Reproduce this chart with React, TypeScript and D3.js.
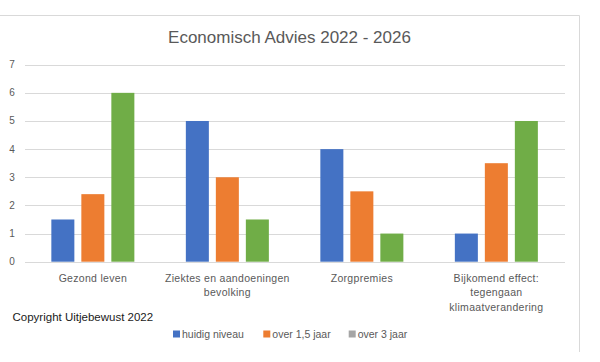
import * as d3 from "d3";

const categories = ["Gezond leven", "Ziektes en aandoeningen bevolking", "Zorgpremies", "Bijkomend effect: tegengaan klimaatverandering"];
const categoryLines = [
  ["Gezond leven"],
  ["Ziektes en aandoeningen", "bevolking"],
  ["Zorgpremies"],
  ["Bijkomend effect:", "tegengaan", "klimaatverandering"],
];
const seriesNames = ["huidig niveau", "over 1,5 jaar", "over 3 jaar"];
const huidigNiveau = [1.5, 5, 4, 1];
const over15Jaar = [2.4, 3, 2.5, 3.5];
const over3Jaar = [6, 1.5, 1, 5];
const yTicks = [0, 1, 2, 3, 4, 5, 6, 7];

const barColors = ["#4472C4", "#ED7D31", "#70AD47"];
// legend in the original shows grey for the third series
const legendColors = ["#4472C4", "#ED7D31", "#A5A5A5"];

const W = 600;
const H = 362;
const font = "'Liberation Sans', Arial, sans-serif";

export default function App() {
  const series = [huidigNiveau, over15Jaar, over3Jaar];

  const x = d3.scaleBand<string>().domain(categories).range([25.6, 563.6]);
  const inner = d3
    .scaleBand<string>()
    .domain(seriesNames)
    .range([0, x.bandwidth()])
    .paddingInner(0.233)
    .paddingOuter(0.858);
  const y = d3.scaleLinear().domain([0, 7]).range([261.7, 64.7]);

  const legendX = [173, 263.3, 348.7];

  return (
    <svg width={W} height={H} style={{ position: "absolute", left: 0, top: 0, background: "#fff" }}>
      {/* chart frame */}
      <path d={`M0,15.5 H579.5 V352`} fill="none" stroke="#d9d9d9" strokeWidth={1} />

      <text x={289.5} y={43.3} textAnchor="middle" fontFamily={font} fontSize={17} fill="#595959">
        Economisch Advies 2022 - 2026
      </text>

      {yTicks.map((t) => (
        <g key={t}>
          <line x1={25} x2={565} y1={Math.round(y(t)) + 0.5} y2={Math.round(y(t)) + 0.5} stroke="#d9d9d9" strokeWidth={1} />
          <text x={12} y={y(t) + 3.5} textAnchor="middle" fontFamily={font} fontSize={10} fill="#595959">
            {t}
          </text>
        </g>
      ))}

      {categories.map((c, ci) => (
        <g key={c} transform={`translate(${x(c)},0)`}>
          {series.map((vals, si) => (
            <rect
              key={si}
              x={inner(seriesNames[si])}
              y={y(vals[ci])}
              width={inner.bandwidth()}
              height={y(0) - y(vals[ci])}
              fill={barColors[si]}
            />
          ))}
        </g>
      ))}

      {categories.map((c, ci) => (
        <text
          key={c}
          x={(x(c) ?? 0) + x.bandwidth() / 2}
          textAnchor="middle"
          fontFamily={font}
          fontSize={10.5}
          letterSpacing={0.3}
          fill="#595959"
        >
          {categoryLines[ci].map((line, li) => (
            <tspan key={li} x={(x(c) ?? 0) + x.bandwidth() / 2} y={281.5 + li * 14.5}>
              {line}
            </tspan>
          ))}
        </text>
      ))}

      <text x={12.5} y={320.8} fontFamily={font} fontSize={11.5} fill="#1a1a1a">
        Copyright Uitjebewust 2022
      </text>

      {seriesNames.map((s, i) => (
        <g key={s}>
          <rect x={legendX[i]} y={330.5} width={7} height={7} fill={legendColors[i]} />
          <text x={legendX[i] + 9} y={337.8} fontFamily={font} fontSize={10.5} fill="#595959">
            {s}
          </text>
        </g>
      ))}
    </svg>
  );
}
